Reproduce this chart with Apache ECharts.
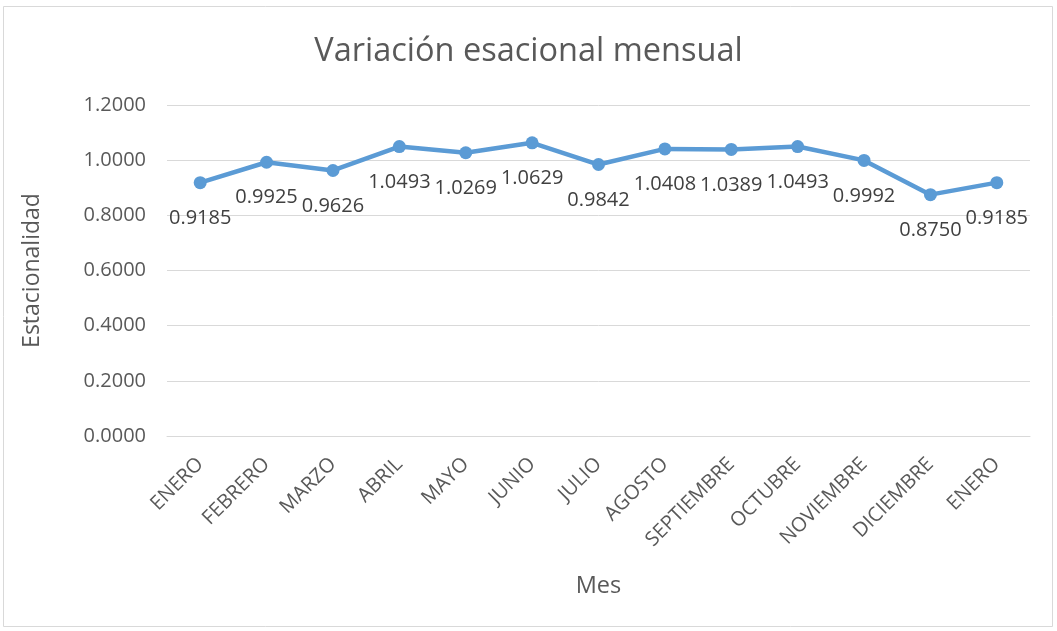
<!DOCTYPE html>
<html><head><meta charset="utf-8">
<script src="https://cdn.jsdelivr.net/npm/echarts@6/dist/echarts.min.js"></script>
<style>html,body{margin:0;padding:0;background:#fff}#c{width:1057px;height:631px}</style>
</head><body><div id="c"></div>
<script>
const categories = ['ENERO','FEBRERO','MARZO','ABRIL','MAYO','JUNIO','JULIO','AGOSTO','SEPTIEMBRE','OCTUBRE','NOVIEMBRE','DICIEMBRE','ENERO'];
const values = [0.9185,0.9925,0.9626,1.0493,1.0269,1.0629,0.9842,1.0408,1.0389,1.0493,0.9992,0.8750,0.9185];
const chart = echarts.init(document.getElementById('c'));
const F = '"Open Sans", sans-serif';
chart.setOption({
  backgroundColor:'#fff',
  animation:false,
  graphic:[{type:'rect',shape:{x:3.5,y:6.5,width:1049,height:620},style:{fill:'none',stroke:'#d9d9d9',lineWidth:1}}],
  title:{text:'Variación esacional mensual',left:'center',top:30,textStyle:{fontFamily:F,fontSize:32.5,fontWeight:'normal',color:'#595959'}},
  grid:{left:167,right:27,top:105,bottom:195},
  xAxis:{type:'category',data:categories,boundaryGap:true,
    name:'Mes',nameLocation:'middle',nameGap:138,nameTextStyle:{fontFamily:F,fontSize:23.5,color:'#595959'},
    axisLine:{lineStyle:{color:'#d9d9d9',width:1}},axisTick:{show:false},
    axisLabel:{rotate:45,interval:0,margin:25,fontFamily:F,fontSize:20,color:'#595959'}},
  yAxis:{type:'value',min:0,max:1.2,interval:0.2,
    name:'Estacionalidad',nameLocation:'middle',nameGap:123,nameTextStyle:{fontFamily:F,fontSize:23,color:'#595959'},
    axisLine:{show:false},axisTick:{show:false},
    splitLine:{lineStyle:{color:'#d9d9d9',width:1}},
    axisLabel:{margin:21,fontFamily:F,fontSize:20,color:'#595959',formatter:v=>v.toFixed(4)}},
  series:[{type:'line',data:values,symbol:'circle',symbolSize:13,
    lineStyle:{color:'#5b9bd5',width:4.5},itemStyle:{color:'#5b9bd5'},
    label:{show:true,position:'bottom',distance:19,fontFamily:F,fontSize:20,color:'#404040',formatter:p=>p.value.toFixed(4)}}]
});
</script></body></html>
